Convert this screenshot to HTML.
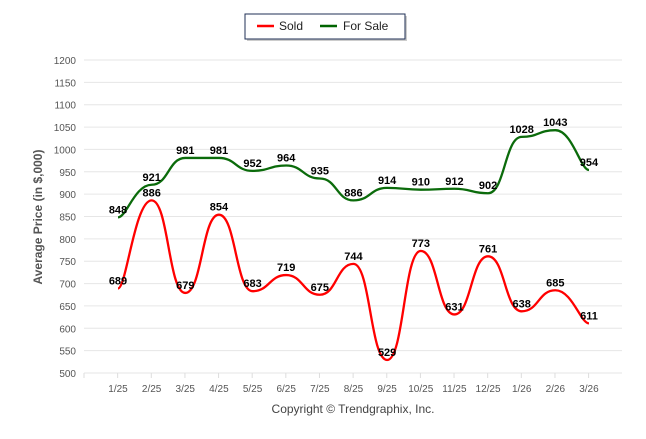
<!DOCTYPE html>
<html><head><meta charset="utf-8"><style>
body{margin:0;background:#fff;font-family:"Liberation Sans",sans-serif}
</style></head><body>
<svg id="s" width="646" height="434" xmlns="http://www.w3.org/2000/svg" font-family="Liberation Sans, sans-serif">
<rect x="247" y="16" width="160" height="25" fill="#999" opacity="0.5"/>
<rect x="245" y="14" width="160" height="25" fill="#fff" stroke="#1f2f55" stroke-width="1"/>
<line x1="257" y1="26" x2="274" y2="26" stroke="#f00" stroke-width="2.5"/>
<text x="279" y="30" font-size="12" fill="#222">Sold</text>
<line x1="320" y1="26" x2="337" y2="26" stroke="#006400" stroke-width="2.5"/>
<text x="343" y="30" font-size="12" fill="#222">For Sale</text>
<text transform="translate(42,217) rotate(-90)" text-anchor="middle" font-size="12" font-weight="bold" fill="#555">Average Price (in $,000)</text>
<text x="353" y="413" text-anchor="middle" font-size="12" fill="#444">Copyright © Trendgraphix, Inc.</text>
<g id="g"></g>
</svg>
<script>
var g=document.getElementById('g'),h='';
function Y(v){return 373-(v-500)*313/700}
function X(i){return 118+i*33.64}
for(var v=500;v<=1200;v+=50){var y=Y(v);h+='<line x1="84" x2="622" y1="'+y+'" y2="'+y+'" stroke="#e6e6e6"/><text x="76" y="'+(y+4)+'" text-anchor="end" font-size="10" fill="#555">'+v+'</text>';}
var lab=['1/25','2/25','3/25','4/25','5/25','6/25','7/25','8/25','9/25','10/25','11/25','12/25','1/26','2/26','3/26'];
for(var i=0;i<=15;i++){var x=84+i*33.64;h+='<line x1="'+x+'" x2="'+x+'" y1="373" y2="378" stroke="#ddd"/>';}
lab.forEach(function(l,i){h+='<text x="'+X(i)+'" y="392" text-anchor="middle" font-size="10" fill="#555">'+l+'</text>'});
function path(d,c){var p=d.map(function(v,i){return[X(i),Y(v)]});var s='M'+p[0][0]+','+p[0][1];
for(var i=0;i<p.length-1;i++){var a=p[i],b=p[i+1],pa=p[i-1]||a,pb=p[i+2]||b,k=0.25;
s+=' C'+(a[0]+(b[0]-pa[0])*k/1)+','+(a[1]+(b[1]-pa[1])*k*0)+' '+(b[0]-(pb[0]-a[0])*k)+','+(b[1])+' '+b[0]+','+b[1];}
return '<path d="'+s+'" fill="none" stroke="'+c+'" stroke-width="2.3"/>';}
var sold=[689,886,679,854,683,719,675,744,529,773,631,761,638,685,611];
var fs=[848,921,981,981,952,964,935,886,914,910,912,902,1028,1043,954];
h+=path(fs,'#0b6b0b')+path(sold,'#f00');
function lbl(d){d.forEach(function(v,i){h+='<text x="'+X(i)+'" y="'+(Y(v)-4)+'" text-anchor="middle" font-size="11" font-weight="bold" fill="#000">'+v+'</text>'})}
lbl(fs);lbl(sold);
g.innerHTML=h;
</script>
</body></html>
